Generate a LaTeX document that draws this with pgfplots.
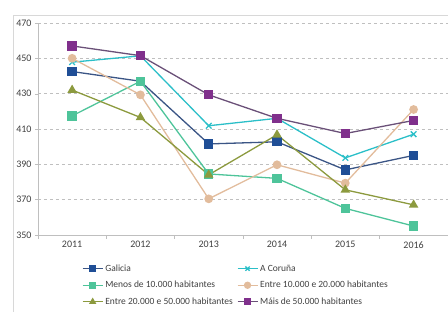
\documentclass[border=0pt]{standalone}
\usepackage{pgfplots}
\pgfplotsset{compat=1.18}
\usepackage{fontspec}
\setmainfont{Carlito}
\definecolor{galicia}{HTML}{1F4E96}
\definecolor{galicialine}{HTML}{3B5585}
\definecolor{coruna}{HTML}{2BBFC8}
\definecolor{menos}{HTML}{4EC49A}
\definecolor{entreA}{HTML}{E2BC9C}
\definecolor{entreB}{HTML}{8C9A3E}
\definecolor{mais}{HTML}{80308C}
\definecolor{maisline}{HTML}{6A5078}
\definecolor{gridc}{HTML}{BFBFBF}
\definecolor{txt}{HTML}{404040}
\begin{document}
\begin{tikzpicture}[x=1pt,y=1pt]
\begin{axis}[
  name=ax,
  scale only axis,
  width=410pt, height=212pt,
  xmin=-0.5, xmax=5.5,
  ymin=350, ymax=470,
  xtick={0,1,2,3,4,5},
  xticklabels={2011,2012,2013,2014,2015,2016},
  minor xtick={-0.5,0.5,1.5,2.5,3.5,4.5,5.5},
  ytick={350,370,390,410,430,450,470},
  major x tick style={draw=none},
  minor tick length=4pt,
  major tick length=3pt,
  tick align=outside,
  tick style={gridc},
  ymajorgrids,
  grid style={gridc, dashed, line width=0.5pt},
  axis x line*=bottom,
  axis y line*=left,
  axis line style={gridc},
  tick label style={font=\fontsize{10}{11}\selectfont, text=txt},
  /pgf/number format/assume math mode=true,
  legend columns=2,
  legend cell align=left,
  legend style={draw=none, fill=none, inner sep=0pt,
    at={(axis description cs:0.107,-0.13)}, anchor=north west,
    font=\fontsize{9.5}{11}\selectfont, text=txt,
    /tikz/every even column/.append style={column sep=2pt},
    row sep=4.5pt},
  legend image code/.code={%
    \draw[#1, mark=none] (0pt,0pt) -- (20pt,0pt);
    \draw[#1, only marks, mark size=3pt] plot coordinates {(10pt,0pt)};},
  every axis plot/.append style={line width=1.3pt, mark size=4pt},
]
\addplot[galicialine, mark=square*, mark options={solid, fill=galicia, draw=galicia}]
  coordinates {(0,442.5) (1,437) (2,401.5) (3,402.7) (4,386.8) (5,395)};
\addlegendentry{Galicia}
\addplot[coruna, mark=x, mark size=4pt]
  coordinates {(0,447.8) (1,451.4) (2,411.8) (3,416) (4,393.6) (5,407)};
\addlegendentry{A Coruña}
\addplot[menos, mark=square*, mark options={solid, fill=menos}]
  coordinates {(0,417.4) (1,437) (2,384.5) (3,382) (4,365) (5,355)};
\addlegendentry{Menos de 10.000 habitantes}
\addplot[entreA, mark=*, mark size=3.7pt, mark options={solid, fill=entreA}]
  coordinates {(0,450) (1,429.3) (2,370.4) (3,389.7) (4,379.3) (5,421)};
\addlegendentry{Entre 10.000 e 20.000 habitantes}
\addplot[entreB, mark=triangle*, mark size=4.2pt, mark options={solid, fill=entreB}]
  coordinates {(0,432) (1,416.5) (2,384) (3,406.7) (4,375.5) (5,367)};
\addlegendentry{Entre 20.000 e 50.000 habitantes}
\addplot[maisline, mark=square*, mark options={solid, fill=mais, draw=mais}]
  coordinates {(0,457) (1,451.5) (2,429.3) (3,416) (4,407.4) (5,414.8)};
\addlegendentry{Máis de 50.000 habitantes}
\end{axis}
\path[use as bounding box] (ax.south west) ++(-38pt,-77pt) rectangle ++(448pt,312pt);
\draw[gridc!60, line width=0.6pt] (ax.south west) ++(-25pt,-77pt) -- ++(0,297pt) -- ++(435pt,0);
\end{tikzpicture}
\end{document}
